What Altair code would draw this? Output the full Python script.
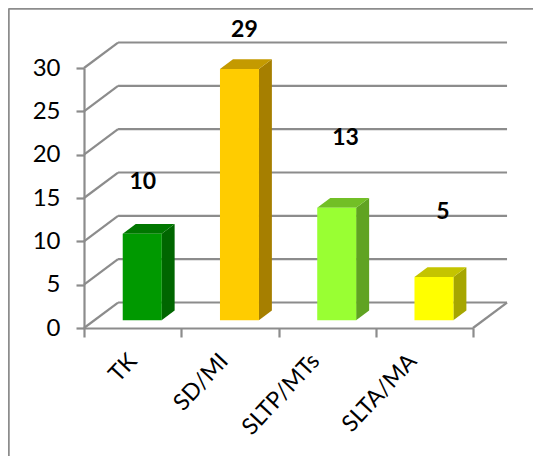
import altair as alt
import pandas as pd

CATEGORIES = ["TK", "SD/MI", "SLTP/MTs", "SLTA/MA"]
VALUES = [10, 29, 13, 5]
FRONT = ["#009900", "#FFCC00", "#99FF33", "#FFFF00"]
SIDE = ["#006600", "#A67F00", "#60A322", "#A6A600"]
TOP = ["#007700", "#C49A00", "#72BF26", "#C4C400"]
LABEL_X = [0.604, 1.65, 2.69, 3.69]
LABEL_Y = [16.9, 34.4, 21.9, 13.4]
TICKS = [0, 5, 10, 15, 20, 25, 30]

GREY = "#8C8C8C"
FONT = "Lato"
W, H = 389, 260
XMAX = 4
YMAX = 30
DX, DY = 0.35, 2.94       # wall depth in data units
BX, BY = 0.134, 1.12      # bar depth in data units
BAR_L, BAR_W, BASE = 0.398, 0.40, 0.887

xs = alt.Scale(domain=[0, XMAX], nice=False, zero=False)
ys = alt.Scale(domain=[0, YMAX], nice=False, zero=False)
y_axis = alt.Axis(values=TICKS, grid=False, domainColor=GREY, domainWidth=2.2,
                  tickColor=GREY, tickWidth=2.2, tickSize=8, labelPadding=16,
                  labelFont=FONT, labelFontSize=24, labelColor="black", title=None)
X = lambda f: alt.X(f, type="quantitative", scale=xs, axis=None)
Y = lambda f: alt.Y(f, type="quantitative", scale=ys, axis=y_axis)

walls = []
for v in TICKS:
    walls += [{"k": f"s{v}", "x": 0, "y": v}, {"k": f"s{v}", "x": DX, "y": v + DY}]
    walls += [{"k": f"b{v}", "x": DX, "y": v + DY}, {"k": f"b{v}", "x": XMAX + DX, "y": v + DY}]
walls += [{"k": "r", "x": XMAX, "y": 0}, {"k": "r", "x": XMAX + DX, "y": DY}]

side, top, bars = [], [], []
for i, (c, v) in enumerate(zip(CATEGORIES, VALUES)):
    l = i + BAR_L
    r = l + BAR_W
    t = BASE + v
    side += [{"c": SIDE[i], "x": r, "y": BASE, "y2": t},
             {"c": SIDE[i], "x": r + BX, "y": BASE + BY, "y2": t + BY}]
    top += [{"c": TOP[i], "y": t, "x": l, "x2": r},
            {"c": TOP[i], "y": t + BY, "x": l + BX, "x2": r + BX}]
    bars.append({"cat": c, "top": t, "base": BASE, "c": FRONT[i]})

labels = pd.DataFrame({"x": LABEL_X, "y": LABEL_Y, "t": VALUES})

frame = alt.Chart(pd.DataFrame({"a": [0]}))
frame_top = frame.mark_rule(color=GREY, strokeWidth=2.5).encode(
    x=alt.value(-75.5), x2=alt.value(449), y=alt.value(-59.5))
frame_left = frame.mark_rule(color=GREY, strokeWidth=2.5).encode(
    x=alt.value(-75.5), y=alt.value(-59.5), y2=alt.value(388))

grid = alt.Chart(pd.DataFrame(walls)).mark_line(color=GREY, strokeWidth=2.2).encode(
    x=X("x"), y=Y("y"), detail="k:N",
)
sides = alt.Chart(pd.DataFrame(side)).mark_area().encode(
    x=X("x"), y=Y("y"), y2="y2:Q",
    color=alt.Color("c:N", scale=None),
)
tops = alt.Chart(pd.DataFrame(top)).mark_area(orient="horizontal").encode(
    y=Y("y"), x=X("x"), x2="x2:Q",
    color=alt.Color("c:N", scale=None),
)
label_offset = {
    "condition": [
        {"test": "datum.value === 'TK'", "value": 0},
        {"test": "datum.value === 'SD/MI'", "value": -6},
    ],
    "value": -12,
}
fronts = alt.Chart(pd.DataFrame(bars)).mark_bar(width=39, xOffset=9.6).encode(
    x=alt.X("cat:N", sort=CATEGORIES, scale=alt.Scale(domain=CATEGORIES, paddingInner=0, paddingOuter=0),
            title=None,
            axis=alt.Axis(labelAngle=-47, labelAlign="right", labelBaseline="middle",
                          labelOffset=label_offset,
                          tickBand="extent", domainColor=GREY, domainWidth=2.2,
                          tickColor=GREY, tickWidth=2.2, tickSize=9, labelPadding=20,
                          labelFont=FONT, labelFontSize=23, labelColor="black")),
    y=Y("top"), y2="base:Q",
    color=alt.Color("c:N", scale=None),
)
texts = alt.Chart(labels).mark_text(font=FONT, fontSize=23, fontWeight="bold", color="black").encode(
    x=X("x"), y=Y("y"), text="t:Q",
)

chart = (
    alt.layer(frame_top, frame_left, grid, sides, tops, fronts, texts)
    .resolve_scale(x="independent")
    .properties(
        width=W, height=H,
        padding={"left": 76, "top": 60, "right": 60, "bottom": 128},
        autosize=alt.AutoSizeParams(type="none"),
        background="white",
    )
    .configure_view(stroke=None)
)
chart.save("out.html", embed_options={"renderer": "svg", "actions": False})
